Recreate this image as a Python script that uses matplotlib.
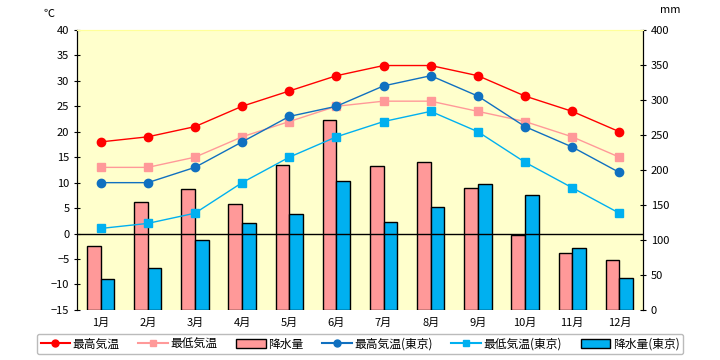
import numpy as np
import matplotlib
matplotlib.use("Agg")
import matplotlib.pyplot as plt
from matplotlib.lines import Line2D
from matplotlib.patches import Patch

plt.rcParams['font.family'] = ['Noto Sans CJK JP', 'DejaVu Sans']

months = ["1月", "2月", "3月", "4月", "5月", "6月", "7月", "8月", "9月", "10月", "11月", "12月"]
max_temp = [18, 19, 21, 25, 28, 31, 33, 33, 31, 27, 24, 20]
min_temp = [13, 13, 15, 19, 22, 25, 26, 26, 24, 22, 19, 15]
rain = [91, 154, 173, 151, 207, 271, 205, 211, 174, 107, 81, 72]
max_tokyo = [10, 10, 13, 18, 23, 25, 29, 31, 27, 21, 17, 12]
min_tokyo = [1, 2, 4, 10, 15, 19, 22, 24, 20, 14, 9, 4]
rain_tokyo = [44, 60, 100, 124, 137, 184, 125, 147, 180, 164, 88, 45]

x = np.arange(len(months))
w = 0.29

fig = plt.figure(figsize=(7.2, 3.6), dpi=100)
fig.subplots_adjust(left=0.107, right=0.893, top=0.917, bottom=0.139)
ax = fig.add_subplot(111)
ax2 = ax.twinx()

# bars on the right (mm) axis, drawn behind the temperature lines
ax2.set_zorder(1)
ax.set_zorder(2)
ax.patch.set_visible(False)
ax2.patch.set_visible(True)
ax2.patch.set_facecolor("#FFFFCC")

ax2.bar(x - w / 2, rain, w, color="#FF9999", edgecolor="black", linewidth=1)
ax2.bar(x + w / 2, rain_tokyo, w, color="#00B0F0", edgecolor="black", linewidth=1)
ax2.set_ylim(0, 400)
ax2.set_yticks(np.arange(0, 401, 50))

ax.axhline(0, color="black", linewidth=1, zorder=1)
ax.plot(x, min_temp, color="#FF9999", marker="s", markersize=6, linewidth=1)
ax.plot(x, min_tokyo, color="#00B0F0", marker="s", markersize=6, linewidth=1)
ax.plot(x, max_tokyo, color="#1070C0", marker="o", markersize=6, linewidth=1)
ax.plot(x, max_temp, color="#FF0000", marker="o", markersize=6, linewidth=1)
ax.set_ylim(-15, 40)
ax.set_yticks(np.arange(-15, 41, 5))
ax.set_xlim(-0.5, 11.5)
ax.set_xticks(x)
ax.set_xticklabels(months)

for a in (ax, ax2):
    a.spines["top"].set_color("#FFFF99")
    a.spines["bottom"].set_visible(False)
    a.spines["left"].set_color("black")
    a.spines["right"].set_color("black")
    a.tick_params(axis="y", direction="inout", length=4, labelsize=8)
    a.tick_params(axis="x", length=0, labelsize=8, pad=6)

ax.text(-0.06, 1.045, "℃", transform=ax.transAxes, fontsize=8)
ax2.text(1.03, 1.06, "mm", transform=ax2.transAxes, fontsize=8)

handles = [
    Line2D([], [], color="#FF0000", marker="o", markersize=5),
    Line2D([], [], color="#FF9999", marker="s", markersize=5),
    Patch(facecolor="#FF9999", edgecolor="black"),
    Line2D([], [], color="#1070C0", marker="o", markersize=5),
    Line2D([], [], color="#00B0F0", marker="s", markersize=5),
    Patch(facecolor="#00B0F0", edgecolor="black"),
]
labels = ["最高気温", "最低気温", "降水量", "最高気温(東京)", "最低気温(東京)", "降水量(東京)"]
fig.legend(handles, labels, loc="lower center", bbox_to_anchor=(0.5, 0.0), ncol=6,
           fontsize=8.5, frameon=True, fancybox=True, edgecolor="#AAAAAA",
           handlelength=2.5, columnspacing=1.6, handletextpad=0.2, borderpad=0.3)

fig.savefig("out.png", dpi=100)
